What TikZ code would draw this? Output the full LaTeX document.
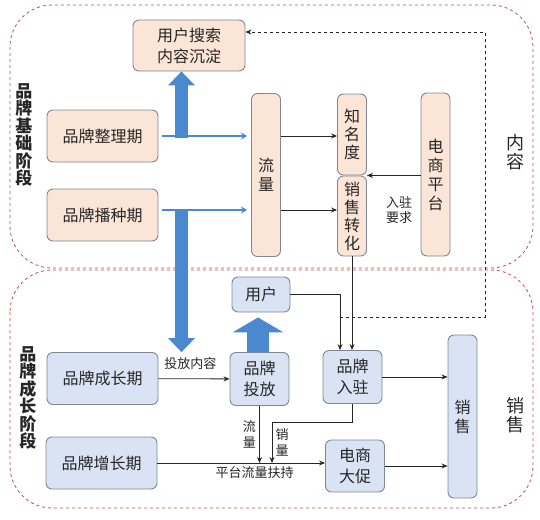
\documentclass[tikz,border=0pt]{standalone}
\usepackage{fontspec}
\setmainfont{Noto Sans CJK SC}
\usetikzlibrary{arrows.meta}

\definecolor{peach}{HTML}{FBE5D6}
\definecolor{paleblue}{HTML}{DAE3F3}
\definecolor{boxline}{HTML}{7F8795}
\definecolor{flowblue}{HTML}{4A89D0}
\definecolor{regionred}{HTML}{C0504D}
\definecolor{ink}{HTML}{262626}

\begin{document}
\begin{tikzpicture}[
    x=1pt, y=-1pt,
    box/.style={rectangle, draw=boxline, line width=0.9pt, rounded corners=6pt, align=center, inner sep=0pt, text=ink, font=\fontsize{16}{21}\selectfont},
    peachbox/.style={box, fill=peach},
    bluebox/.style={box, fill=paleblue},
    period/.style={minimum width=111pt, minimum height=52pt},
    block/.style={minimum width=59pt, minimum height=53pt},
    bar/.style={minimum width=29pt, minimum height=163pt, font=\fontsize{16}{19}\selectfont},
    cell/.style={minimum width=29pt, minimum height=80pt, font=\fontsize{16}{18}\selectfont},
    arrow/.style={-{Stealth[length=6pt,width=5pt]}, line width=0.8pt, ink},
    dasharrow/.style={arrow, dashed},
    bluearrow/.style={-{Stealth[length=6pt,width=7pt]}, line width=2.5pt, flowblue},
    fatarrow/.style={-{Triangle[width=27pt,length=14pt,line width=0pt]}, line width=13pt, flowblue},
    widearrow/.style={-{Triangle[width=51pt,length=15pt,line width=0pt]}, line width=22pt, flowblue},
    label/.style={font=\fontsize{13}{15.5}\selectfont, align=center, text=ink},
    stage/.style={font=\fontsize{17}{17.5}\selectfont\bfseries, align=center, text=ink},
    sidetag/.style={font=\fontsize{18}{19}\selectfont, align=center, text=ink},
    region/.style={draw=regionred, dashed, line width=0.8pt, rounded corners=42pt}
]
\useasboundingbox (0,0) rectangle (540,519);

% Stage regions
\draw[region] (10,5) rectangle (533,268);
\draw[region] (10,270) rectangle (533,508);

\node[stage] (basictag) at (24,135) {品\\牌\\基\\础\\阶\\段};
\node[stage] (growtag) at (28,398) {品\\牌\\成\\长\\阶\\段};
\node[sidetag] (contenttag) at (515,152) {内\\容};
\node[sidetag] (salestag) at (515,415) {销\\售};

% Content stage
\node[peachbox, minimum width=112pt, minimum height=51pt] (search) at (189,45.5) {用户搜索\\内容沉淀};
\node[peachbox, period] (sort) at (102.5,136) {品牌整理期};
\node[peachbox, period] (seed) at (102.5,215) {品牌播种期};
\node[peachbox, bar] (flow) at (266,175) {流\\量};
\node[peachbox, cell, minimum height=81pt] (fame) at (352,134.5) {知\\名\\度};
\node[peachbox, cell] (conv) at (352,216) {销\\售\\转\\化};
\node[peachbox, bar] (plat) at (435.5,174.5) {电\\商\\平\\台};

% Sales stage
\node[bluebox, minimum width=58pt, minimum height=35pt] (user) at (261,294.5) {用户};
\node[bluebox, block] (put) at (259.5,379) {品牌\\投放};
\node[bluebox, period] (grow) at (102.5,378.5) {品牌成长期};
\node[bluebox, period] (incr) at (101.5,463) {品牌增长期};
\node[bluebox, block] (settle) at (352.5,377) {品牌\\入驻};
\node[bluebox, block, minimum height=52pt] (promo) at (355,466) {电商\\大促};
\node[bluebox, bar] (sales) at (462.5,416.5) {销\\售};

% Blue flows
\coordinate (upfoot) at (181.5,138);
\coordinate (downfoot) at (181.5,209);
\draw[fatarrow] (upfoot) -- (upfoot |- search.south);
\draw[bluearrow, shorten <=4pt, shorten >=4pt] (sort.east) -- (flow.west |- sort.east);
\draw[bluearrow, shorten <=4pt, shorten >=4pt] ([yshift=5pt]seed.east) -- ([yshift=5pt]flow.west |- seed.east);
\draw[fatarrow] (downfoot) -- (downfoot |- put.north);
\draw[widearrow, shorten >=5pt] ([xshift=-1.5pt]put.north) -- ([xshift=-1.5pt]put.north |- user.south);

% Content arrows
\draw[arrow] (flow.east |- sort.east) -- (fame.west |- sort.east);
\draw[arrow] ([yshift=5pt]flow.east |- seed.east) -- ([yshift=5pt]conv.west |- seed.east);
\draw[arrow] (plat.west |- fame.south east) -- (fame.south east);
\node[label] (claim) at (399,210) {入驻\\要求};

% Sales arrows
\draw[arrow] (grow) -- node[label, above=5pt, pos=0.45] {投放内容} (put);
\draw[arrow] (user.east) -| ([xshift=-12.5pt]settle.north);
\draw[arrow] (conv.south) -- (conv.south |- settle.north);
\coordinate (tap) at (340,317);
\draw[dasharrow] (tap) -| (485,32) -- ([yshift=13.5pt]search.east);
\draw[arrow] (settle) -- (settle -| sales.west);
\draw[arrow] (promo) -- (promo -| sales.west);
\draw[arrow] (incr) -- node[label, below, pos=0.58] {平台流量扶持} (incr -| promo.west);
\draw[arrow] (put.south) -- node[label, left] {流\\量} (put.south |- incr.east);
\coordinate (sellturn) at (272,422);
\draw[arrow] (settle.south) |- (sellturn) -- node[label, right] {销\\量} (sellturn |- incr.east);

\end{tikzpicture}
\end{document}
